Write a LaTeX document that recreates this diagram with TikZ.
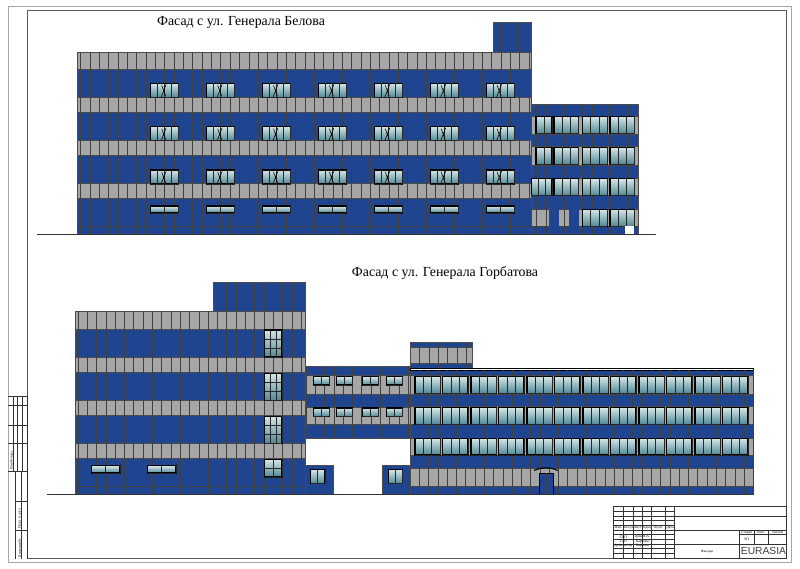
\documentclass[tikz,border=0pt]{standalone}
\usepackage{fontspec}
\setmainfont{Liberation Serif}
\newfontfamily\sansfont{Liberation Sans}
\definecolor{wallblue}{HTML}{1F4490}
\definecolor{wallgrey}{HTML}{A6A6A6}
\definecolor{linegrey}{HTML}{4A4A4A}
\definecolor{glasstop}{HTML}{D5E6E8}
\definecolor{glassbot}{HTML}{4F8794}
\tikzset{
  blueband/.style={fill=wallblue, draw=black!70, line width=0.4pt},
  greyband/.style={fill=wallgrey, draw=linegrey, line width=0.4pt},
  seam/.style={draw=black!75, line width=0.45pt},
  pane/.style={top color=glasstop, bottom color=glassbot, draw=black, line width=0.8pt},
  mullion/.style={draw=black!85, line width=0.65pt},
  ground/.style={draw=black!80, line width=0.6pt},
  sheet/.style={draw=black!80, line width=0.65pt},
  thinline/.style={draw=black!80, line width=0.45pt},
  title/.style={font=\fontsize{9.85}{12}\selectfont},
  tiny/.style={font=\fontsize{2.6}{3}\selectfont, inner sep=0pt}
}
% window with cols x rows panes: corner, width, height
\newcommand{\glazing}[6]{%
  \draw[pane] ({#1},{#2}) rectangle ({#1+#3},{#2+#4});
  \foreach \c in {1,...,#5} {
    \draw[mullion] ({#1+\c*(#3)/#5},{#2}) -- ({#1+\c*(#3)/#5},{#2+#4});
  }
  \foreach \r in {1,...,#6} {
    \draw[mullion] ({#1},{#2+\r*(#4)/#6}) -- ({#1+#3},{#2+\r*(#4)/#6});
  }
}
\begin{document}
\begin{tikzpicture}[x=0.025cm, y=-0.025cm]
  \useasboundingbox (0,0) rectangle (800,569);
  \fill[white] (0,0) rectangle (800,569);

  % sheet frame
  \draw[draw=black!35, line width=0.7pt] (8,6) rectangle (791.7,562);
  \draw[draw=black!65, line width=0.9pt] (27.3,10.3) rectangle (786.5,558.5);

  % left stamp
  \foreach \y in {396,405.7,425,443.3,471.7}
    \draw[thinline] (8,\y) -- (27.3,\y);
  \foreach \y in {501.7,530}
    \draw[thinline] (15.7,\y) -- (27.3,\y);
  \foreach \x in {13.3,17.7,22.3}
    \draw[thinline] (\x,396) -- (\x,471.7);
  \draw[thinline] (27.3,396) -- (27.3,558.5);
  \foreach \x in {15.7,21.7}
    \draw[thinline] (\x,471.7) -- (\x,558.5);
  \node[tiny, rotate=90] (stampa) at (11.7,460) {Инв.№подл.};
  \node[tiny, rotate=90] (stampb) at (19.8,519) {Подп. и дата};
  \node[tiny, rotate=90] (stampc) at (19.8,548) {Взам.инв.№};

  % title block
  \draw[sheet] (613.3,506.7) rectangle (786.5,558.5);
  \foreach \y in {511.7,516,520.7,525.7,530,534.7,539,544,548.7,553.7}
    \draw[thinline] (613.3,\y) -- (674.7,\y);
  \foreach \x in {623.3,633.3,642.3,651,665.3,674.7}
    \draw[thinline] (\x,506.7) -- (\x,558.5);
  \draw[sheet] (613.3,530) -- (786.5,530);
  \draw[sheet] (674.7,516) -- (786.5,516);
  \draw[sheet] (674.7,544) -- (786.5,544);
  \draw[sheet] (739,530) -- (739,558.5);
  \draw[thinline] (754,530) -- (754,544);
  \draw[thinline] (768.3,530) -- (768.3,544);
  \draw[thinline] (739,534.7) -- (786.5,534.7);

  \node[tiny] (hizm) at (618.3,527.8) {Изм.};
  \node[tiny] (hkol) at (628.3,527.8) {Кол.уч};
  \node[tiny] (hlist) at (637.8,527.8) {Лист};
  \node[tiny] (hdoc) at (646.6,527.8) {№док};
  \node[tiny] (hpodp) at (658.1,527.8) {Подп.};
  \node[tiny] (hdata) at (670,527.8) {Дата};
  \node[tiny] (rgip) at (623.3,537) {ГИП};
  \node[tiny] (rgap) at (623.3,541.5) {ГАП};
  \node[tiny] (rarch) at (623.3,546) {Архитектор};
  \node[tiny] (ngip) at (642.3,537) {Грин В.А.};
  \node[tiny] (ngap) at (642.3,541.5) {Карпова};
  \node[tiny] (narch) at (642.3,546) {Карпова};
  \node[tiny] (sstad) at (746.5,532.4) {Стадия};
  \node[tiny] (slist) at (761,532.4) {Лист};
  \node[tiny] (slistov) at (777.6,532.4) {Листов};
  \node[tiny] (scode) at (746.5,539.3) {ЭП};
  \node[tiny] (sname) at (707,551.5) {Фасады};
  \node[font={\sansfont\fontsize{7.3}{10}\selectfont}, inner sep=0pt, text=black!75] (logo) at (763.5,551) {EURASIA};

  % titles
  \node[title] (titlea) at (241,22) {Фасад с ул. Генерала Белова};
  \node[title] (titleb) at (445,273) {Фасад с ул. Генерала Горбатова};

  % upper facade, tower
  \draw[blueband] (493.3,22.3) rectangle (531.3,52);
  \foreach \x in {500,509,518.7,527.3}
    \draw[seam] (\x,22.3) -- (\x,52);

  % upper facade, main block
  \foreach \a/\b in {52/69,97.7/112,140.7/155,183.7/198}
    \draw[greyband] (77,\a) rectangle (531.3,\b);
  \foreach \a/\b in {69/97.7,112/140.7,155/183.7,198/234.7}
    \draw[blueband] (77,\a) rectangle (531.3,\b);
  \foreach \k in {0,...,48}
    \draw[seam] ({80.7+9.34*\k},52) -- ({80.7+9.34*\k},234.7);
  \draw[seam] (77,226) -- (531.3,226);
  \foreach \x in {150.7,206.7,262.5,318.4,374.3,430.2,486.1} {
    \foreach \y in {83.3,126.7,170} {
      \glazing{\x}{\y}{28}{14}{4}{1}
      \draw[black, line width=0.4pt] (\x+10.5,\y+14) -- (\x+15.5,\y+1) (\x+11,\y+2) -- (\x+15,\y+13);
    }
    \glazing{\x}{206}{28}{7}{2}{1}
  }

  % upper facade, right block
  \draw[blueband] (531.3,104) rectangle (638.7,234.7);
  \foreach \a/\b in {116.7/134,146.7/165,178.3/195.7,209.3/226}
    \draw[greyband] (531.3,\a) rectangle (638.7,\b);
  \foreach \k in {0,...,10}
    \draw[seam] ({536.7+9.2*\k},104) -- ({536.7+9.2*\k},234.7);
  \draw[seam] (531.3,226) -- (638.7,226);
  \draw[blueband, draw=none] (548.7,209.3) rectangle (558.7,234.7);
  \draw[blueband, draw=none] (569.3,209.3) rectangle (578.7,234.7);
  \foreach \y in {116.7,147.3,178.7} {
    \glazing{582.7}{\y}{24.7}{17}{3}{1}
    \glazing{610}{\y}{24.7}{17}{3}{1}
    \glazing{554}{\y}{24.7}{17}{3}{1}
  }
  \glazing{536}{116.7}{16}{17}{2}{1}
  \glazing{536}{147.3}{16}{17}{2}{1}
  \glazing{531.3}{178.7}{20.7}{17}{3}{1}
  \glazing{582.7}{209.3}{24.7}{17}{3}{1}
  \glazing{610}{209.3}{24.7}{17}{3}{1}
  \fill[white] (624.7,226.3) rectangle (634,235);

  \draw[ground] (37,234.9) -- (656,234.9);

  % lower facade, tower
  \draw[blueband] (213.3,282.3) rectangle (305,311);
  \foreach \k in {15,...,23}
    \draw[seam] ({87.3+9.3*\k},282.3) -- ({87.3+9.3*\k},311);

  % lower facade, left block
  \foreach \a/\b in {311/329,357.3/372.3,400.3/415.3,443.7/458}
    \draw[greyband] (75.3,\a) rectangle (305,\b);
  \foreach \a/\b in {329/357.3,372.3/400.3,415.3/443.7,458/494}
    \draw[blueband] (75.3,\a) rectangle (305,\b);
  \foreach \k in {-1,...,23}
    \draw[seam] ({87.3+9.3*\k},311) -- ({87.3+9.3*\k},494);
  \draw[seam] (75.3,486.3) -- (305,486.3);
  \foreach \y in {330,373.3,416.3} {
    \glazing{264.7}{\y}{17.3}{27}{3}{3}
  }
  \glazing{264.7}{459.3}{17.3}{17.7}{2}{2}
  \glazing{91.7}{465.7}{28.3}{7.3}{2}{1}
  \glazing{147.3}{465.7}{28.7}{7.3}{2}{1}

  % lower facade, bridge
  \draw[blueband] (305,366.3) rectangle (410.5,438);
  \draw[greyband] (305,375.7) rectangle (410.5,394);
  \draw[greyband] (305,407) rectangle (410.5,424);
  \foreach \k in {0,...,11}
    \draw[seam] ({306+9.3*\k},366.3) -- ({306+9.3*\k},438);
  \foreach \x in {313.3,336.7,362.7,386.7} {
    \foreach \y in {376.7,408} {
      \glazing{\x}{\y}{16}{8.3}{2}{1}
    }
  }

  % lower facade, small blocks
  \draw[blueband] (305,465.3) rectangle (333.7,494);
  \draw[blueband] (382.3,465.3) rectangle (410.5,494);
  \glazing{310.7}{469.7}{14.3}{14}{2}{1}
  \glazing{388.3}{469.7}{14}{14}{2}{1}

  % lower facade, penthouse
  \draw[blueband] (410,342.7) rectangle (472,368.3);
  \draw[greyband] (410,347.3) rectangle (472,363.7);
  \foreach \x in {419.3,429.3,438.3,447.7,457,466}
    \draw[seam] (\x,342.7) -- (\x,368.3);

  % lower facade, right wing
  \draw[blueband] (410.7,370) rectangle (753.3,494.3);
  \draw[draw=black, line width=0.5pt] (410.7,368.3) rectangle (753.3,370);
  \foreach \a/\b in {375.7/394,406.7/424.3,438/455.3,468.7/486.7}
    \draw[greyband] (410.7,\a) rectangle (753.3,\b);
  \foreach \k in {0,...,36}
    \draw[seam] ({419.3+9.28*\k},370) -- ({419.3+9.28*\k},494.3);
  \foreach \y in {376.7,407.7,438.3} {
    \foreach \i in {0,...,5} {
      \glazing{415+56*\i}{\y}{25.3}{16.7}{3}{1}
      \glazing{442.7+56*\i}{\y}{25.3}{16.7}{3}{1}
    }
  }

  % entrance
  \draw[blueband, draw=black] (539,473.3) rectangle (553.3,494.3);
  \draw[seam] (546,473.3) -- (546,494.3);
  \draw[black, line width=0.8pt] (534,470.5) .. controls (541,467) and (551,467) .. (557.7,470.5);

  \draw[ground] (47,494.4) -- (753.3,494.4);
\end{tikzpicture}
\end{document}
